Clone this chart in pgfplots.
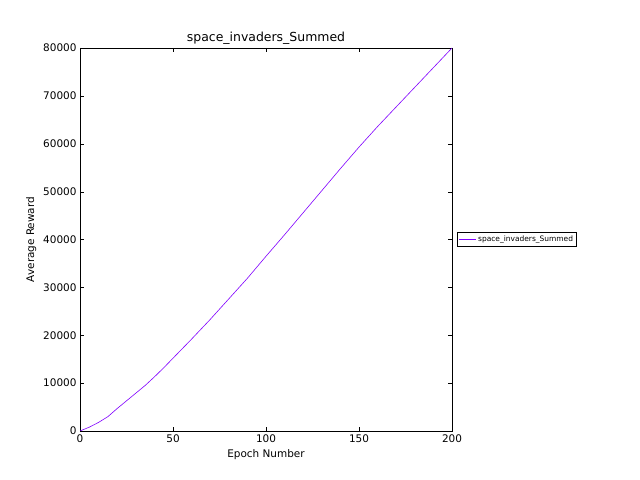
\documentclass[border=0pt]{standalone}
\usepackage{pgfplots}
\pgfplotsset{compat=1.18}
\usepackage{fontspec}
\setmainfont{DejaVu Sans}
\definecolor{lc}{rgb}{0.5,0,1}
\begin{document}
\begin{tikzpicture}[x=1bp,y=1bp]
\path[use as bounding box] (-80,-49) rectangle (560,431);
\begin{axis}[
  scale only axis, width=372bp, height=383bp,
  xmin=0, xmax=200, ymin=0, ymax=80000,
  xtick={0,50,100,150,200}, ytick={0,10000,...,80000},
  scaled y ticks=false,
  /pgf/number format/assume math mode=true,
  yticklabel style={/pgf/number format/1000 sep={}},
  tick align=inside, ticks=major, major tick length=4bp,
  tick style={black},
  ticklabel style={font=\fontsize{10.5}{12}\selectfont},
  title={space\_invaders\_Summed},
  title style={font=\fontsize{12.5}{14}\selectfont, yshift=-6bp},
  xlabel={Epoch Number}, ylabel={Average Reward},
  label style={font=\fontsize{10.5}{12}\selectfont},
  legend style={at={(1.013,0.5)}, anchor=west, font=\fontsize{7.5}{9}\selectfont, draw=black, inner sep=1.5bp},
  legend cell align=left,
]
\addplot[lc, line width=0.6pt] coordinates {
(0,0)(5,800)(10,1800)(15,3000)(20,4700)(25,6300)(30,7900)(35,9500)(40,11300)(45,13200)(50,15200)
(60,19200)(70,23300)(80,27600)(90,31900)(100,36500)(110,41000)(120,45600)(130,50200)(140,54800)
(150,59300)(160,63600)(170,67700)(180,71800)(190,75900)(200,80000)};
\addlegendentry{space\_invaders\_Summed}
\end{axis}
\end{tikzpicture}
\end{document}
